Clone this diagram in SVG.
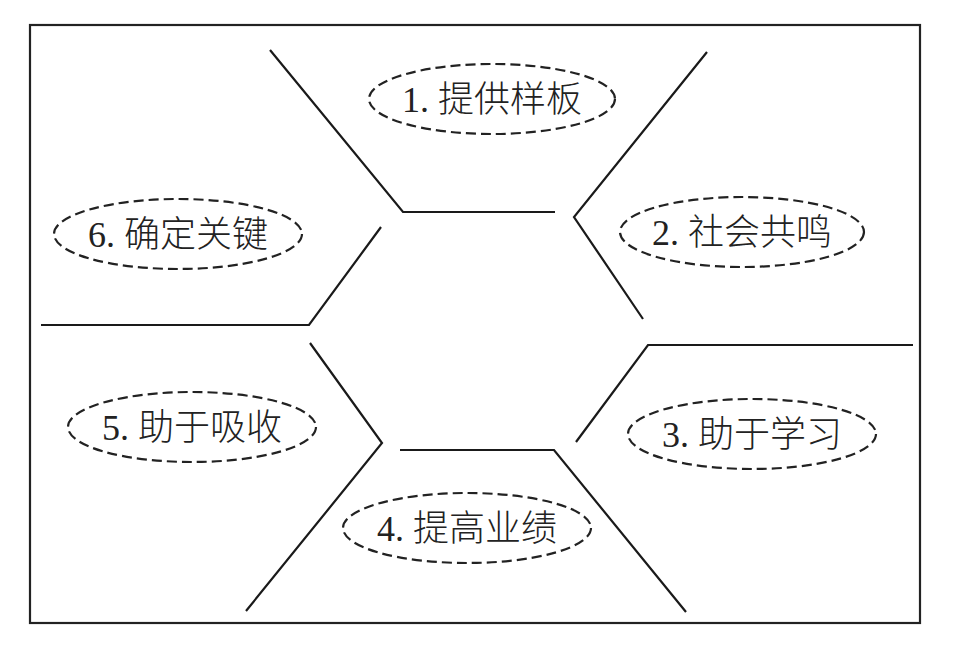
<svg xmlns="http://www.w3.org/2000/svg" width="971" height="645" viewBox="0 0 971 645">
<style>
.frame{fill:none;stroke:#222;stroke-width:2.2}
.ln{fill:none;stroke:#1a1a1a;stroke-width:2.2;stroke-linejoin:miter}
.el{fill:none;stroke:#222;stroke-width:2.2;stroke-dasharray:10 5}
.t{font-family:"Liberation Serif","Noto Sans CJK SC",serif;font-size:36px;font-weight:300;fill:#222;text-anchor:middle}
</style>
<rect width="971" height="645" fill="#fff"/>
<rect class="frame" x="30" y="25" width="890" height="598"/>
<g id="connectors">
<polyline class="ln" points="270,50 403,212 555,212"/>
<polyline class="ln" points="707,52 574,217 643,319"/>
<polyline class="ln" points="381,227 309,325 41,325"/>
<polyline class="ln" points="310,343 382,443 246,611"/>
<polyline class="ln" points="400,450 554,450 686,612"/>
<polyline class="ln" points="576,442 648,345 913,345"/>
</g>
<g id="n1"><ellipse class="el" cx="492" cy="99" rx="123" ry="35"/><text class="t" x="492" y="112">1. 提供样板</text></g>
<g id="n2"><ellipse class="el" cx="742" cy="232" rx="122" ry="35"/><text class="t" x="742" y="245">2. 社会共鸣</text></g>
<g id="n3"><ellipse class="el" cx="752" cy="434" rx="124" ry="35"/><text class="t" x="752" y="447">3. 助于学习</text></g>
<g id="n4"><ellipse class="el" cx="467" cy="528" rx="124" ry="35"/><text class="t" x="467" y="541">4. 提高业绩</text></g>
<g id="n5"><ellipse class="el" cx="192" cy="427" rx="124" ry="35"/><text class="t" x="192" y="440">5. 助于吸收</text></g>
<g id="n6"><ellipse class="el" cx="178" cy="234" rx="124" ry="35"/><text class="t" x="178" y="247">6. 确定关键</text></g>
</svg>
